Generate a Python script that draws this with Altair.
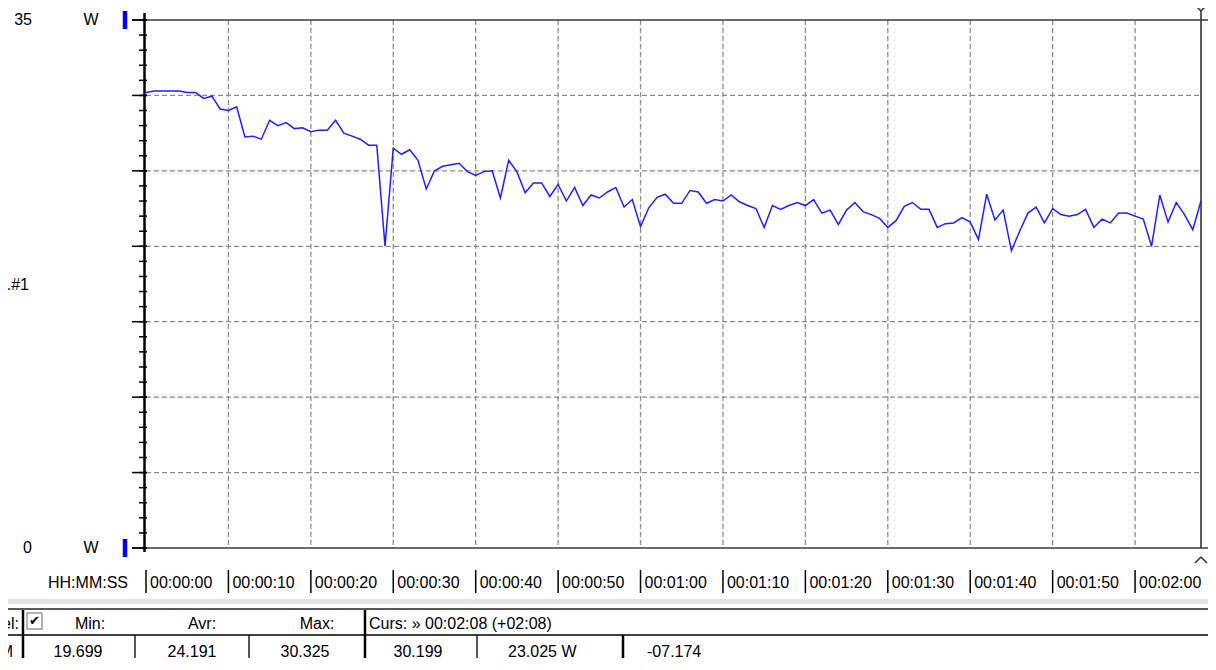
import altair as alt
import pandas as pd

# ---------------- data ----------------
power_w = [30.2, 30.3, 30.3, 30.3, 30.3, 30.2, 30.2, 29.8, 29.95, 29.1,
           29.0, 29.25, 27.25, 27.3, 27.1, 28.35, 28.0, 28.2, 27.8, 27.85,
           27.6, 27.7, 27.7, 28.35, 27.5, 27.3, 27.1, 26.7, 26.7, 20.0,
           26.5, 26.1, 26.4, 25.7, 23.8, 25.0, 25.3, 25.4, 25.5, 24.95,
           24.7, 24.95, 25.0, 23.2, 25.7, 24.95, 23.55, 24.2, 24.2, 23.3,
           24.1, 23.0, 23.9, 22.7, 23.4, 23.2, 23.6, 23.9, 22.6, 23.1,
           21.3, 22.55, 23.25, 23.45, 22.85, 22.85, 23.7, 23.6, 22.85, 23.1,
           23.0, 23.4, 22.95, 22.7, 22.5, 21.25, 22.7, 22.45, 22.7, 22.9,
           22.7, 23.1, 22.2, 22.4, 21.45, 22.4, 22.9, 22.3, 22.1, 21.85,
           21.25, 21.7, 22.65, 22.9, 22.45, 22.45, 21.25, 21.5, 21.55, 21.9,
           21.6, 20.45, 23.45, 21.75, 22.4, 19.7, 21.0, 22.2, 22.6, 21.55,
           22.5, 22.1, 22.0, 22.1, 22.45, 21.25, 21.8, 21.55, 22.2, 22.2,
           22.0, 21.8, 20.0, 23.4, 21.6, 22.9, 22.1, 21.1, 23.0]
seconds = list(range(len(power_w)))

x_grid_s = [10, 20, 30, 40, 50, 60, 70, 80, 90, 100, 110, 120]
x_tick_s = [0, 10, 20, 30, 40, 50, 60, 70, 80, 90, 100, 110, 120]
x_tick_labels = ["00:00:00", "00:00:10", "00:00:20", "00:00:30", "00:00:40",
                 "00:00:50", "00:01:00", "00:01:10", "00:01:20", "00:01:30",
                 "00:01:40", "00:01:50", "00:02:00"]
y_grid_w = [5, 10, 15, 20, 25, 30]
y_major_w = [0, 5, 10, 15, 20, 25, 30, 35]
y_minor_w = list(range(0, 36))
y_limits = [0, 35]
y_limit_labels = ["0", "35"]
unit = "W"
channel_label = "1.#1"
cursor_s = 128
cursor_text = "Curs: \u00bb 00:02:08 (+02:08)"

header_cols = ["Min:", "Avr:", "Max:"]
stat_values = ["19.699", "24.191", "30.325"]
cursor_values = ["30.199", "23.025  W", "-07.174"]

# ---------------- layout ----------------
PW, PH = 1055, 528          # plot area
PL, PT = 138, 12            # plot offset inside chart
TOTAL_W, TOTAL_H = 1200, 650
FONT = "Liberation Sans"
FS = 16

X = alt.Scale(domain=[0, cursor_s], nice=False, zero=False)
Y = alt.Scale(domain=y_limits, nice=False, zero=True)

line_df = pd.DataFrame({"t": seconds, "p": power_w})
lim_df = pd.DataFrame({"v": y_limits, "lab": y_limit_labels, "u": [unit, unit]})
cur_df = pd.DataFrame({"t": [cursor_s]})
one = pd.DataFrame({"a": [0]})


def rule_v(x, y1, y2, color="#000000", w=1):
    return alt.Chart(one).mark_rule(color=color, strokeWidth=w).encode(
        x=alt.value(x), y=alt.value(y1), y2=alt.value(y2))


def rule_h(y, x1, x2, color="#000000", w=1):
    return alt.Chart(one).mark_rule(color=color, strokeWidth=w).encode(
        y=alt.value(y), x=alt.value(x1), x2=alt.value(x2))


def txt(s, x, y, align="left", size=FS, font=FONT):
    return alt.Chart(one).mark_text(
        text=s, align=align, baseline="middle", font=font, fontSize=size,
        color="#000000").encode(x=alt.value(x), y=alt.value(y))


XA = dict(scale=X, axis=None)
YA = dict(scale=Y, axis=None)

layers = []

# grid
layers.append(alt.Chart(pd.DataFrame({"g": x_grid_s})).mark_rule(
    color="#8c8c8c", strokeDash=[5, 3], strokeWidth=1.3).encode(
    x=alt.X("g:Q", **XA), y=alt.value(0), y2=alt.value(PH)))
layers.append(alt.Chart(pd.DataFrame({"g": y_grid_w})).mark_rule(
    color="#8c8c8c", strokeDash=[5, 3], strokeWidth=1.3).encode(
    y=alt.Y("g:Q", **YA), x=alt.value(0), x2=alt.value(PW)))

# frame lines at 35 W and 0 W
layers.append(alt.Chart(lim_df).mark_rule(color="#3a3a3a", strokeWidth=1.5).encode(
    y=alt.Y("v:Q", **YA), x=alt.value(-14), x2=alt.value(PW + 9)))

# left axis with minor / major ticks
layers.append(alt.Chart(pd.DataFrame({"m": y_minor_w})).mark_rule(
    color="#000000", strokeWidth=1.5).encode(
    y=alt.Y("m:Q", **YA), x=alt.value(-7), x2=alt.value(1)))
layers.append(alt.Chart(pd.DataFrame({"m": y_major_w})).mark_rule(
    color="#000000", strokeWidth=1.5).encode(
    y=alt.Y("m:Q", **YA), x=alt.value(-14), x2=alt.value(1)))
layers.append(rule_v(-1.5, -7, PH + 4, "#000000", 2.5))

# cursor line with markers
layers.append(alt.Chart(cur_df).mark_rule(color="#2a2a2a", strokeWidth=1.5).encode(
    x=alt.X("t:Q", **XA), y=alt.value(-9), y2=alt.value(PH)))
for dx in [-6, 6]:
    layers.append(alt.Chart(cur_df).mark_rule(color="#2a2a2a", strokeWidth=1.4,
                                              x2Offset=dx).encode(
        x=alt.X("t:Q", **XA), x2="t:Q",
        y=alt.value(-9), y2=alt.value(-15)))
    layers.append(alt.Chart(cur_df).mark_rule(color="#2a2a2a", strokeWidth=1.4,
                                              x2Offset=dx).encode(
        x=alt.X("t:Q", **XA), x2="t:Q",
        y=alt.value(PH + 9), y2=alt.value(PH + 15)))

# data line
layers.append(alt.Chart(line_df).mark_line(color="#1f1fff", strokeWidth=1.5).encode(
    x=alt.X("t:Q", **XA), y=alt.Y("p:Q", **YA)))

# left labels: value, unit, blue markers
layers.append(alt.Chart(lim_df).mark_text(
    align="right", baseline="middle", font=FONT, fontSize=FS,
    color="#000000").encode(y=alt.Y("v:Q", **YA), x=alt.value(-114), text="lab:N"))
layers.append(alt.Chart(lim_df).mark_text(
    align="center", baseline="middle", font=FONT, fontSize=FS,
    color="#000000").encode(y=alt.Y("v:Q", **YA), x=alt.value(-55), text="u:N"))
layers.append(alt.Chart(lim_df).mark_rule(
    color="#0000ff", strokeWidth=4.5, yOffset=-9, y2Offset=9).encode(
    y=alt.Y("v:Q", **YA), y2="v:Q", x=alt.value(-21)))

layers.append(txt(channel_label, -117, 265, "right"))

# x tick labels with bars
tick_df = pd.DataFrame({"t": x_tick_s, "lab": x_tick_labels})
layers.append(alt.Chart(tick_df).mark_rule(color="#000000", strokeWidth=1.5).encode(
    x=alt.X("t:Q", **XA), y=alt.value(550), y2=alt.value(573)))
layers.append(alt.Chart(tick_df).mark_text(
    align="left", baseline="middle", font=FONT, fontSize=FS, color="#000000",
    dx=4).encode(x=alt.X("t:Q", **XA), y=alt.value(563), text="lab:N"))
layers.append(txt("HH:MM:SS", -18, 563, "right"))

# ---------------- bottom table ----------------
layers.append(alt.Chart(one).mark_rect(color="#e4e4e4").encode(
    x=alt.value(-146), x2=alt.value(PW + 20), y=alt.value(579), y2=alt.value(584)))
layers.append(rule_h(589, -146, PW + 20, "#5a5a5a", 2))
layers.append(rule_h(615, -146, PW + 20, "#000000", 1.5))
for xx, top, w in [(-123, 590, 2.5), (-11, 615, 1.3), (103, 615, 1.3),
                   (219, 590, 2.5), (331, 615, 1.3), (477, 615, 2.5)]:
    layers.append(rule_v(xx, top, 660, "#000000", w))

# checkbox
layers.append(alt.Chart(one).mark_rect(fill="#ffffff", stroke="#9a9a9a",
                                       strokeWidth=1.5).encode(
    x=alt.value(-119), x2=alt.value(-104), y=alt.value(593), y2=alt.value(609)))
layers.append(txt("\u2714", -117, 601, "left", 13, "DejaVu Sans"))

layers.append(txt("nel:", -127, 604, "right"))
for s, xx in zip(header_cols, [-56, 56, 171]):
    layers.append(txt(s, xx, 604, "center"))
layers.append(txt(cursor_text, 223, 604, "left"))

layers.append(txt("M", -133, 632, "right"))
for s, xx in zip(stat_values, [-68, 46, 159]):
    layers.append(txt(s, xx, 632, "center"))
layers.append(txt(cursor_values[0], 272, 632, "center"))
layers.append(txt(cursor_values[1], 362, 632, "left"))
layers.append(txt(cursor_values[2], 501, 632, "left"))

chart = alt.layer(*layers).properties(
    width=PW, height=PH,
    autosize=alt.AutoSizeParams(type="none"),
    padding={"left": PL, "top": PT, "right": TOTAL_W - PL - PW,
             "bottom": TOTAL_H - PT - PH},
).configure_view(stroke=None)

chart.save("out.html", embed_options={"renderer": "svg", "actions": False})
